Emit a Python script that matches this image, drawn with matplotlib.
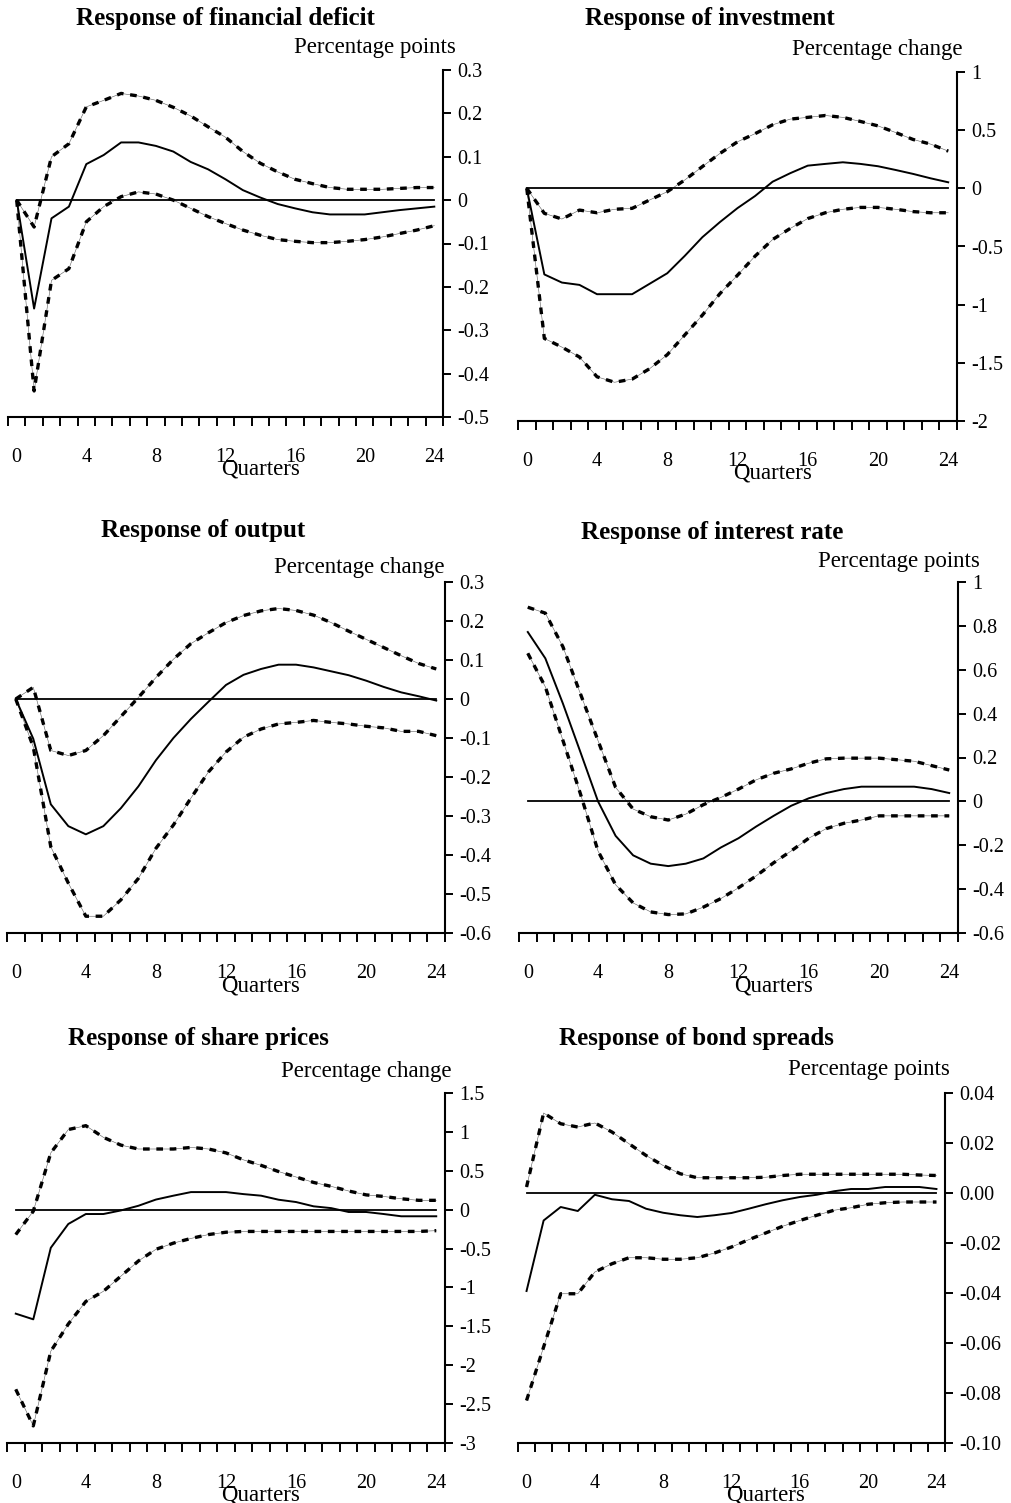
import matplotlib
matplotlib.use("Agg")
import matplotlib.pyplot as plt
from matplotlib.ticker import FixedLocator, FuncFormatter, NullFormatter
import numpy as np

plt.rcParams['font.family'] = ['Liberation Serif', 'DejaVu Serif']
plt.rcParams['axes.unicode_minus'] = False

quarters = list(range(25))

# financial deficit (percentage points)
deficit_mid = [0, -0.25, -0.042, -0.015, 0.083, 0.104, 0.133, 0.133, 0.125, 0.112, 0.088, 0.071, 0.048,
               0.023, 0.006, -0.009, -0.019, -0.028, -0.033, -0.033, -0.033, -0.028, -0.023, -0.019, -0.015]
deficit_hi = [0, -0.062, 0.10, 0.13, 0.215, 0.23, 0.246, 0.24, 0.23, 0.214, 0.194, 0.169, 0.145,
              0.112, 0.085, 0.065, 0.048, 0.038, 0.029, 0.025, 0.025, 0.025, 0.027, 0.029, 0.029]
deficit_lo = [0, -0.44, -0.185, -0.158, -0.05, -0.015, 0.008, 0.019, 0.014, 0.0, -0.019, -0.038, -0.054,
              -0.069, -0.081, -0.091, -0.095, -0.098, -0.098, -0.095, -0.091, -0.085, -0.077, -0.069, -0.059]

# investment (percentage change)
invest_mid = [0, -0.74, -0.81, -0.83, -0.91, -0.91, -0.91, -0.82, -0.73, -0.58, -0.42, -0.29, -0.17,
              -0.066, 0.057, 0.13, 0.195, 0.21, 0.224, 0.21, 0.19, 0.158, 0.124, 0.086, 0.052]
invest_hi = [0, -0.215, -0.264, -0.187, -0.21, -0.18, -0.172, -0.10, -0.029, 0.072, 0.187, 0.30, 0.40,
             0.47, 0.546, 0.595, 0.61, 0.626, 0.61, 0.575, 0.537, 0.48, 0.42, 0.38, 0.32]
invest_lo = [0, -1.29, -1.365, -1.45, -1.62, -1.667, -1.64, -1.55, -1.43, -1.26, -1.09, -0.905, -0.747,
             -0.583, -0.44, -0.345, -0.26, -0.21, -0.18, -0.164, -0.164, -0.18, -0.2, -0.21, -0.21]

# output (percentage change)
output_mid = [0, -0.102, -0.27, -0.326, -0.347, -0.326, -0.28, -0.224, -0.157, -0.1, -0.051, -0.007, 0.036,
              0.062, 0.077, 0.088, 0.088, 0.081, 0.071, 0.061, 0.047, 0.031, 0.017, 0.007, -0.004]
output_hi = [0, 0.03, -0.132, -0.145, -0.132, -0.094, -0.045, 0.004, 0.055, 0.102, 0.142, 0.17, 0.196,
             0.214, 0.226, 0.232, 0.227, 0.215, 0.196, 0.174, 0.153, 0.132, 0.111, 0.091, 0.077]
output_lo = [0, -0.123, -0.379, -0.472, -0.557, -0.557, -0.515, -0.46, -0.383, -0.323, -0.254, -0.187, -0.136,
             -0.098, -0.077, -0.064, -0.06, -0.055, -0.06, -0.064, -0.07, -0.074, -0.083, -0.083, -0.094]

# interest rate (percentage points)
rate_mid = [0.772, 0.652, 0.446, 0.224, 0.0, -0.157, -0.246, -0.284, -0.295, -0.284, -0.26, -0.21, -0.168,
            -0.115, -0.066, -0.02, 0.014, 0.038, 0.056, 0.067, 0.067, 0.067, 0.067, 0.056, 0.038]
rate_hi = [0.885, 0.858, 0.705, 0.49, 0.277, 0.064, -0.035, -0.07, -0.085, -0.058, -0.015, 0.018, 0.056,
           0.098, 0.128, 0.148, 0.174, 0.194, 0.197, 0.197, 0.197, 0.19, 0.183, 0.163, 0.143]
rate_lo = [0.675, 0.522, 0.278, 0.034, -0.226, -0.38, -0.463, -0.504, -0.516, -0.513, -0.482, -0.443, -0.394,
           -0.34, -0.28, -0.226, -0.168, -0.124, -0.1, -0.085, -0.066, -0.066, -0.066, -0.066, -0.066]

# share prices (percentage change)
shares_mid = [-1.337, -1.41, -0.49, -0.184, -0.056, -0.056, -0.01, 0.05, 0.13, 0.18, 0.226, 0.226, 0.226,
              0.2, 0.18, 0.128, 0.098, 0.043, 0.02, -0.03, -0.03, -0.056, -0.085, -0.085, -0.085]
shares_hi = [-0.32, -0.02, 0.73, 1.03, 1.08, 0.93, 0.83, 0.78, 0.78, 0.78, 0.80, 0.78, 0.73,
             0.64, 0.57, 0.49, 0.42, 0.35, 0.30, 0.24, 0.19, 0.17, 0.14, 0.12, 0.12]
shares_lo = [-2.31, -2.78, -1.82, -1.47, -1.18, -1.05, -0.855, -0.66, -0.51, -0.43, -0.37, -0.32, -0.29,
             -0.28, -0.28, -0.28, -0.28, -0.28, -0.28, -0.28, -0.28, -0.28, -0.28, -0.28, -0.27]

# bond spreads (percentage points)
spreads_mid = [-0.0392, -0.011, -0.0056, -0.0072, -0.0007, -0.0025, -0.0032, -0.0063, -0.0079, -0.0089,
               -0.0096, -0.0089, -0.008, -0.0063, -0.0045, -0.0029, -0.0016, -0.0007, 0.0007, 0.0016,
               0.0016, 0.0024, 0.0024, 0.0024, 0.0016]
spreads_hi = [0.0024, 0.032, 0.0277, 0.0264, 0.028, 0.0244, 0.0197, 0.015, 0.011, 0.0077, 0.0061, 0.0061,
              0.0061, 0.0061, 0.0063, 0.007, 0.0075, 0.0075, 0.0075, 0.0075, 0.0075, 0.0075, 0.0075, 0.0072, 0.007]
spreads_lo = [-0.083, -0.0616, -0.0403, -0.0403, -0.0316, -0.0283, -0.0259, -0.0259, -0.0265, -0.0265,
              -0.0259, -0.024, -0.0216, -0.0187, -0.016, -0.0133, -0.011, -0.0089, -0.0069, -0.0059,
              -0.0045, -0.0039, -0.0036, -0.0036, -0.0036]

W, H = 1012, 1503


def fx(x):
    return x / W


def fy(y):
    return 1 - y / H


def fmt_general(v, pos):
    s = '%g' % round(v, 6)
    return '0' if s in ('-0', '0') else s


def fmt_two(v, pos):
    s = '%.2f' % v
    return '0.00' if s == '-0.00' else s


def plotPanel(box, mid, hi, lo, ylim, ystep, yfmt, title, title_xy, unit, unit_xy):
    left, top, right, bottom = box
    ax = fig.add_axes([fx(left), fy(bottom), fx(right - left), (bottom - top) / H])

    for band in (hi, lo):
        ax.plot(quarters, band, color='0.35', lw=0.4, zorder=2)
        ax.plot(quarters, band, color='black', lw=2.4, linestyle=(0, (2.0, 2.0)),
                dash_capstyle='butt', zorder=3)
    ax.plot([0, 24], [0, 0], color='black', lw=1.3, zorder=4)
    ax.plot(quarters, mid, color='black', lw=1.4, zorder=5)

    ax.set_xlim(-0.5, 24.5)
    ax.set_ylim(*ylim)

    ax.spines['left'].set_visible(False)
    ax.spines['top'].set_visible(False)
    ax.spines['right'].set_linewidth(1.5)
    ax.spines['bottom'].set_linewidth(1.5)

    ax.xaxis.set_major_locator(FixedLocator(range(0, 25, 4)))
    ax.xaxis.set_minor_locator(FixedLocator(np.arange(-0.5, 25, 1)))
    ax.xaxis.set_minor_formatter(NullFormatter())
    ax.tick_params(axis='x', which='major', length=0, pad=22, labelsize=14.5)
    ax.tick_params(axis='x', which='minor', length=6.5, width=1.4, direction='out')

    ax.yaxis.tick_right()
    ax.yaxis.set_major_locator(FixedLocator(np.arange(ylim[0], ylim[1] + ystep / 2, ystep)))
    ax.yaxis.set_major_formatter(FuncFormatter(yfmt))
    ax.tick_params(axis='y', which='major', length=5.5, width=1.4, direction='out', pad=5,
                   labelsize=14.5)

    ax.text(14, -0.15, 'Quarters', transform=ax.get_xaxis_transform(), ha='center', va='center',
            fontsize=16.5)

    fig.text(fx(title_xy[0]), fy(title_xy[1]), title, ha='center', va='center',
             fontsize=18, fontweight='bold')
    fig.text(fx(unit_xy[0]), fy(unit_xy[1]), unit, ha='right', va='center', fontsize=16.5)
    return ax


fig = plt.figure(figsize=(W / 100, H / 100), dpi=100)

plotPanel((8, 70, 443, 417), deficit_mid, deficit_hi, deficit_lo, (-0.5, 0.3), 0.1, fmt_general,
          'Response of financial deficit', (225, 18), 'Percentage points', (456, 47))
plotPanel((518, 72, 957, 421), invest_mid, invest_hi, invest_lo, (-2, 1), 0.5, fmt_general,
          'Response of investment', (710, 18), 'Percentage change', (963, 49))
plotPanel((7, 582, 445, 933), output_mid, output_hi, output_lo, (-0.6, 0.3), 0.1, fmt_general,
          'Response of output', (203, 530), 'Percentage change', (445, 568))
plotPanel((519, 582, 958, 933), rate_mid, rate_hi, rate_lo, (-0.6, 1), 0.2, fmt_general,
          'Response of interest rate', (712, 532), 'Percentage points', (980, 561))
plotPanel((7, 1093, 445, 1443), shares_mid, shares_hi, shares_lo, (-3, 1.5), 0.5, fmt_general,
          'Response of share prices', (198, 1038), 'Percentage change', (452, 1071))
plotPanel((518, 1093, 945, 1443), spreads_mid, spreads_hi, spreads_lo, (-0.10, 0.04), 0.02, fmt_two,
          'Response of bond spreads', (696, 1038), 'Percentage points', (950, 1069))

fig.savefig('out.png', dpi=100)
